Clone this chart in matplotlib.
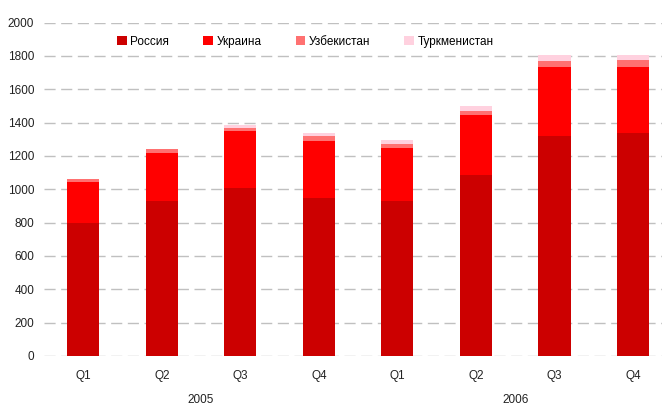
import numpy as np
from matplotlib import pyplot as plt

plt.rcParams['font.family'] = ['Liberation Sans', 'DejaVu Sans']

quarters = ["Q1", "Q2", "Q3", "Q4", "Q1", "Q2", "Q3", "Q4"]
years = ["2005", "2006"]
russia = [795, 928, 1006, 950, 928, 1084, 1317, 1335]
ukraine = [248, 287, 341, 337, 317, 359, 414, 396]
uzbekistan = [17, 25, 18, 30, 24, 24, 41, 47]
turkmenistan = [0, 0, 18, 18, 24, 30, 36, 30]

series = [
    ("Россия", russia, "#cc0000"),
    ("Украина", ukraine, "#ff0000"),
    ("Узбекистан", uzbekistan, "#ff7171"),
    ("Туркменистан", turkmenistan, "#ffd1df"),
]

fig = plt.figure(figsize=(6.62, 4.05), dpi=100)
ax = fig.add_axes([44 / 662, 49 / 405, 1 - 44 / 662, 333.5 / 405])

x = np.arange(len(quarters))
bottom = np.zeros(len(quarters))
for name, vals, col in series:
    ax.bar(x, vals, 0.41, bottom=bottom, color=col, label=name, zorder=3)
    bottom += np.array(vals)

ax.set_ylim(0, 2000)
ax.set_xlim(-0.5, 7.37)
ax.set_yticks(range(0, 2001, 200))
ax.set_xticks(x)
ax.set_xticklabels(quarters)
ax.yaxis.grid(True, color="#c0c0c0", linestyle=(0, (8, 4)), linewidth=1, zorder=0)
for s in ax.spines.values():
    s.set_visible(False)
ax.tick_params(axis="both", length=0, labelsize=8.5, colors="#222222")
ax.tick_params(axis="y", pad=7)
ax.tick_params(axis="x", pad=10)

# year labels under the quarters
for i, yr in enumerate(years):
    ax.text(i * 4 + 1.5, -0.132, yr, transform=ax.get_xaxis_transform(),
            ha="center", va="center", fontsize=8.5, color="#222222")

ax.legend(loc="center", bbox_to_anchor=(0.423, 0.943), ncol=4, frameon=False,
          fontsize=8.5, handlelength=0.8, handleheight=0.8, handletextpad=0.3,
          columnspacing=2.9)

fig.savefig("out.png", dpi=100)
